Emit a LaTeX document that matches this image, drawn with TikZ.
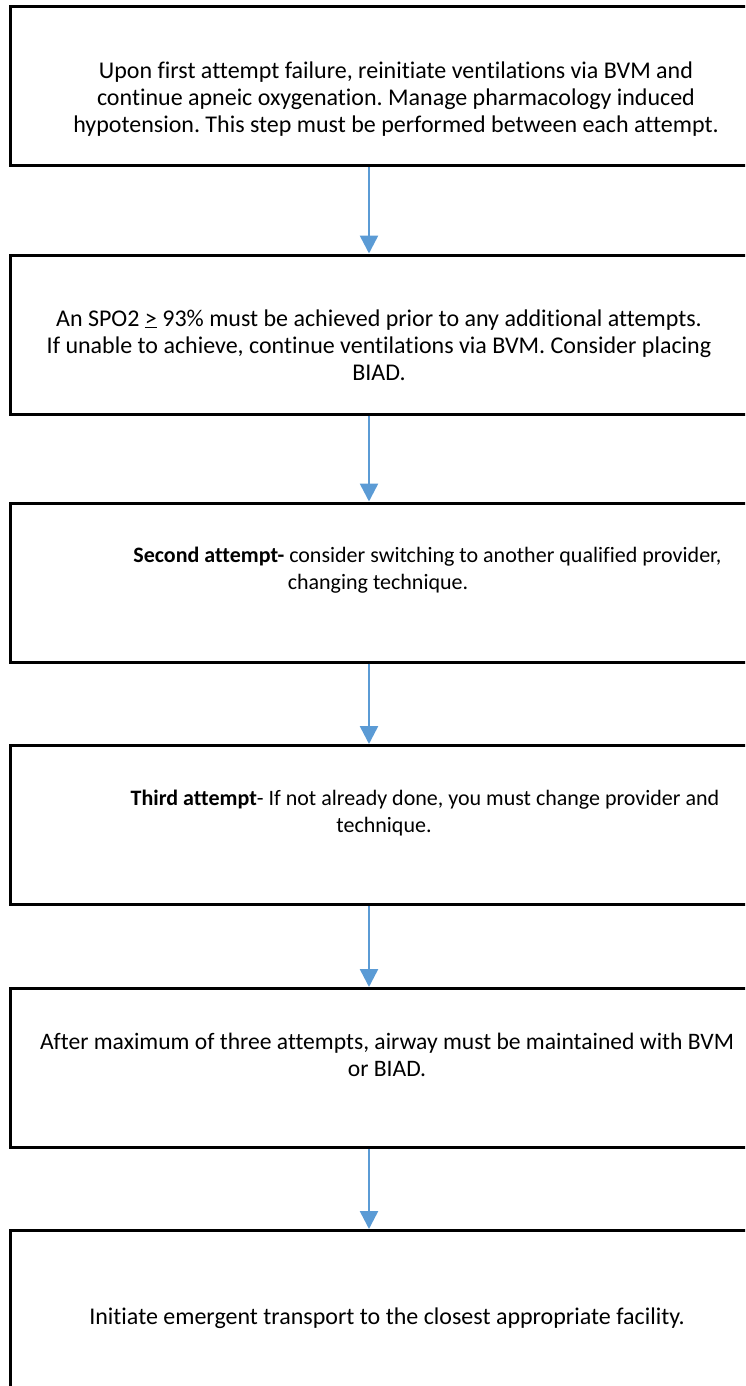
\documentclass[tikz,border=0pt]{standalone}
\usepackage{fontspec}
\setmainfont{Carlito}[Ligatures=NoCommon]
\usepackage{xcolor}
\usepackage{tikz}
\usetikzlibrary{arrows.meta,positioning,calc}
\frenchspacing

\definecolor{flowblue}{RGB}{91,155,213}

\begin{document}
\begin{tikzpicture}[x=1pt, y=-1pt]
    % Define styles
    \tikzstyle{stepbox} = [rectangle, draw=black, line width=3pt, minimum width=750pt, minimum height=159pt]
    \tikzstyle{steptext} = [align=center, font=\fontsize{24}{27}\selectfont]
    \tikzstyle{smalltext} = [steptext, font=\fontsize{22}{27}\selectfont]
    \tikzstyle{flow} = [draw=flowblue, line width=2.5pt, -{Triangle[length=18pt, width=18pt]}]

    % Page frame
    \clip (0,0) rectangle (745,1386);

    % Boxes
    \node[stepbox] (first) at (385,86) {};
    \node[stepbox] (spo) at (385,334.5) {};
    \node[stepbox] (second) at (385,582.5) {};
    \node[stepbox] (third) at (385,825) {};
    \node[stepbox] (maximum) at (385,1068) {};
    \node[stepbox] (transport) at (385,1310) {};

    % Texts
    \node[steptext] (firsttxt) at (396,99) {Upon first attempt failure, reinitiate ventilations via BVM and\\continue apneic oxygenation. Manage pharmacology induced\\hypotension. This step must be performed between each attempt.};
    \node[steptext] (spotxt) at (379,345) {An SPO2 \underline{>} 93\% must be achieved prior to any additional attempts.\\If unable to achieve, continue ventilations via BVM. Consider placing\\BIAD.};
    \node[smalltext] (secondtxt) at (378,570) {\hspace*{99pt}\textbf{Second attempt-} consider switching to another qualified provider,\\changing technique.};
    \node[smalltext] (thirdtxt) at (384,813) {\hspace*{82pt}\textbf{Third attempt}- If not already done, you must change provider and\\technique.};
    \node[steptext, font=\fontsize{23.6}{27}\selectfont] (maximumtxt) at (387,1055) {After maximum of three attempts, airway must be maintained with BVM\\or BIAD.};
    \node[steptext] (transporttxt) at (387,1318) {Initiate emergent transport to the closest appropriate facility.};

    % Arrows
    \coordinate (axis) at (369,0);
    \draw[flow] (first.south -| axis) -- (spo.north -| axis);
    \draw[flow] (spo.south -| axis) -- (second.north -| axis);
    \draw[flow] (second.south -| axis) -- (third.north -| axis);
    \draw[flow] (third.south -| axis) -- (maximum.north -| axis);
    \draw[flow] (maximum.south -| axis) -- (transport.north -| axis);

\end{tikzpicture}
\end{document}
